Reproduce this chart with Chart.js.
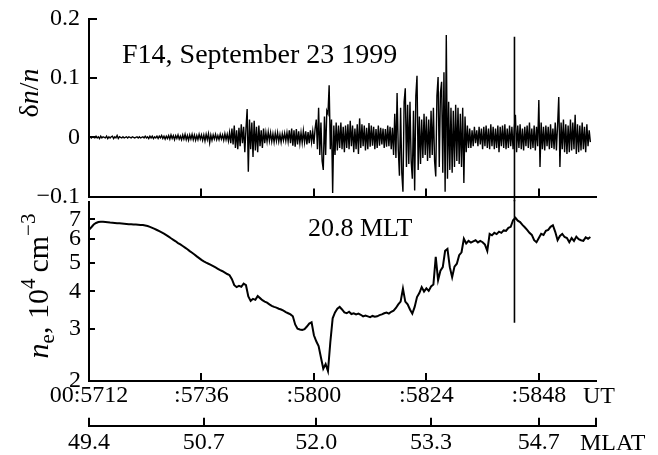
<!DOCTYPE html>
<html>
<head>
<meta charset="utf-8">
<script src="https://cdn.jsdelivr.net/npm/chart.js@4/dist/chart.umd.min.js"></script>
<style>
  html, body { margin: 0; padding: 0; background: #fff; }
  #fig { position: relative; width: 658px; height: 455px; overflow: hidden; background: #fff; }
  #cTop { position: absolute; left: 0; top: 0; }
  #cBot { position: absolute; left: 0; top: 200px; }
</style>
</head>
<body>
<div id="fig">
  <canvas id="cTop" width="658" height="210"></canvas>
  <canvas id="cBot" width="658" height="255"></canvas>
</div>
<script>
// DMSP F14 pass, 23 Sep 1999. Time is seconds after 00:57:12 UT.
const dtDn = 0.25;   // sampling step of the dn/n series, s
const dtNe = 0.5;    // sampling step of the density series, s

// relative density fluctuations dn/n
const dnOverN = [
  0,.001,-.001,.001,0,-.001,.002,-.001,.001,-.002,.002,-.001,.001,0,-.001,.002,-.002,.001,-.001,.001,
  .002,-.002,.001,-.001,.003,-.002,.001,0,-.001,.001,-.001,0,.001,-.001,.001,0,-.001,.001,0,-.001,
  0,.001,-.001,.001,-.001,0,.001,-.001,.002,-.001,.001,-.002,.002,-.001,.002,-.002,.001,-.001,.002,-.002,
  .002,-.001,.003,-.002,.002,-.003,.002,-.002,.003,-.003,.004,-.002,.003,-.004,.003,-.002,.004,-.003,.002,-.004,
  .004,-.003,.005,-.004,.003,-.005,.004,-.003,.005,-.004,.004,-.005,.003,-.004,.005,-.003,.004,-.005,.004,-.006,
  .005,-.004,.006,-.009,.004,-.005,.004,-.003,.005,-.004,.003,-.004,.005,-.003,.004,-.005,.006,-.004,.005,-.006,
  .008,-.01,.015,-.012,.02,-.018,.012,-.02,.016,-.015,.022,-.01,.018,-.025,.015,.048,-.058,.03,-.02,.025,
  -.033,.028,-.022,.018,-.025,.02,-.015,.012,-.018,.015,-.01,.008,-.007,.009,-.006,.008,-.007,.006,-.008,.007,
  -.006,.008,-.007,.005,-.008,.006,-.005,.007,-.006,.008,-.007,.012,-.01,.015,-.014,.012,-.016,.014,-.012,.01,
  -.01,.008,-.009,.011,-.008,.01,-.012,.009,-.01,.012,-.008,.01,-.011,.015,.03,-.02,.05,-.03,.025,-.04,
  -.055,.035,-.03,.045,.04,.088,-.02,.03,-.094,.02,-.03,.025,-.022,.02,-.018,.025,-.02,.018,-.025,.02,
  -.018,.022,-.02,.028,-.015,.02,-.025,.015,-.02,.022,-.028,.032,-.018,.022,-.015,.02,-.022,.016,-.02,.024,
  -.016,.02,-.014,.018,-.02,.014,-.018,.02,-.014,.016,-.012,.015,-.018,.014,-.016,.02,-.015,.018,-.02,.016,
  -.03,.04,-.035,.075,-.02,-.065,.05,-.06,-.092,.06,.083,-.05,.055,-.045,.06,-.04,-.07,.045,-.09,.07,
  .104,-.055,.035,-.045,.03,-.035,.04,-.03,.035,-.04,.03,-.035,.045,-.03,.05,-.04,-.066,.07,.102,-.05,
  .075,.094,-.06,.11,-.092,.173,-.07,.06,-.055,.05,-.06,.045,-.05,.055,-.04,.05,-.045,.04,-.05,.05,
  -.077,.035,-.025,.02,-.018,.015,-.018,.012,-.015,.018,-.01,.012,-.015,.018,-.012,.015,-.02,.018,-.015,.02,
  -.018,.015,-.02,.022,-.015,.018,-.02,.015,-.018,.02,-.025,.018,-.015,.02,-.018,.022,-.02,.015,-.018,.02,
  -.015,.018,-.02,.015,.038,-.025,.02,-.018,.022,-.02,.015,-.022,.018,-.015,.02,-.018,.025,-.02,.015,-.018,
  .02,-.022,.018,-.015,.063,-.05,.025,-.02,.018,-.022,.02,-.015,.018,-.02,.022,-.018,.015,-.02,.025,-.022,
  .02,.068,-.05,.025,-.02,.03,-.025,.022,-.028,.02,-.025,.03,-.022,.025,-.02,.038,-.028,.022,-.025,.02,
  -.022,.025,-.02,.018,-.025,.022,-.015,.012,-.008
];

// electron density n_e, 10^4 cm^-3
const neDensity = [
  6.45,6.58,6.72,6.80,6.85,6.87,6.86,6.85,6.84,6.82,6.81,6.80,6.79,6.78,6.77,6.76,6.75,6.74,6.73,6.72,
  6.72,6.71,6.70,6.69,6.67,6.64,6.60,6.55,6.50,6.44,6.38,6.32,6.26,6.19,6.12,6.04,5.97,5.90,5.82,5.76,
  5.69,5.62,5.55,5.47,5.40,5.33,5.25,5.18,5.11,5.05,5.00,4.96,4.92,4.87,4.82,4.77,4.72,4.68,4.63,4.58,
  4.54,4.40,4.20,4.14,4.18,4.15,4.25,4.20,3.85,3.72,3.78,3.75,3.86,3.80,3.74,3.70,3.67,3.62,3.58,3.55,
  3.53,3.50,3.48,3.45,3.41,3.38,3.35,3.30,3.10,3.00,2.98,2.97,2.99,3.05,3.12,3.15,2.85,2.72,2.62,2.40,
  2.20,2.28,2.16,2.70,3.25,3.40,3.50,3.55,3.48,3.40,3.38,3.42,3.36,3.38,3.35,3.37,3.34,3.30,3.32,3.30,
  3.28,3.31,3.29,3.30,3.33,3.35,3.38,3.40,3.37,3.42,3.45,3.52,3.62,3.70,4.09,3.70,3.62,3.48,3.37,3.55,
  3.83,3.95,4.14,4.00,4.10,4.02,4.16,4.22,5.23,4.37,4.70,4.83,5.48,5.56,4.83,4.47,4.85,4.96,5.30,5.42,
  6.02,5.80,5.92,5.84,5.90,5.95,5.85,5.92,5.86,5.75,5.48,6.25,6.18,6.30,6.24,6.36,6.30,6.42,6.40,6.55,
  6.60,6.95,7.08,6.92,6.85,6.70,6.58,6.45,6.30,6.20,5.95,5.86,6.05,6.25,6.20,6.40,6.45,6.60,6.68,6.35,
  5.95,6.15,6.25,6.10,6.05,5.86,6.05,5.92,6.12,6.00,5.95,5.92,6.08,6.02,6.10
];

// vertical marker through both panels
const markerTime = 90.8;
const markerDn = [0.17, -0.108];
const markerNe = [8.3, 3.14];

// axes
const timeMax = 108.2;
const utTickTimes  = [0, 24, 48, 72, 96];
const utTickLabels = ['00:5712', ':5736', ':5800', ':5824', ':5848'];
const mlatTickTimes  = [0, 24.5, 48.5, 73, 96];
const mlatTickLabels = ['49.4', '50.7', '52.0', '53.3', '54.7'];
const dnTicks      = [-0.1, 0, 0.1, 0.2];
const dnTickLabels = ['\u22120.1', '0', '0.1', '0.2'];
const neTicks      = [2, 3, 4, 5, 6, 7];
const neTickLabels = ['2', '3', '4', '5', '6', '7'];

const SERIF = '"Liberation Serif", "Times New Roman", serif';
const tickFont = { family: SERIF, size: 24, lineHeight: 1.2 };

// short tick marks drawn on the inner side of an axis line
const innerTicks = {
  id: 'innerTicks',
  afterDraw(chart, args, opts) {
    const ctx = chart.ctx;
    ctx.save();
    ctx.strokeStyle = '#000';
    ctx.lineWidth = opts.lineWidth || 2;
    for (const item of opts.items || []) {
      const sc = chart.scales[item.scale];
      for (const v of item.values) {
        const p = Math.round(sc.getPixelForValue(v));
        ctx.beginPath();
        if (sc.isHorizontal()) {
          ctx.moveTo(p, sc.top);
          ctx.lineTo(p, sc.top - item.length);
        } else {
          ctx.moveTo(sc.right, p);
          ctx.lineTo(sc.right + item.length, p);
        }
        ctx.stroke();
      }
    }
    ctx.restore();
  }
};

// rich-text labels: axis titles (rotated), panel captions, axis units
function drawRich(ctx, segs, x, y, rotate, align) {
  ctx.save();
  ctx.translate(x, y);
  if (rotate) ctx.rotate(-Math.PI / 2);
  ctx.fillStyle = '#000';
  ctx.textBaseline = 'alphabetic';
  ctx.textAlign = 'left';
  let total = 0;
  for (const s of segs) { ctx.font = s.font; total += ctx.measureText(s.text).width + (s.gap || 0); }
  let cx = align === 'center' ? -total / 2 : 0;
  for (const s of segs) {
    ctx.font = s.font;
    ctx.fillText(s.text, cx, s.dy || 0);
    cx += ctx.measureText(s.text).width + (s.gap || 0);
  }
  ctx.restore();
}
const textLayer = {
  id: 'textLayer',
  afterDraw(chart, args, opts) {
    for (const t of opts.items || []) drawRich(chart.ctx, t.segs, t.x, t.y, t.rotate, t.align);
  }
};

Chart.defaults.font.family = SERIF;
Chart.defaults.color = '#000';

const axisBorder = { display: true, color: '#000', width: 2 };
const noGrid = { display: true, drawOnChartArea: false, drawTicks: false };
// keep the plot area fixed: no extra room reserved for half-labels at the ends
const fixWidth = w => s => { s.width = w; s.paddingTop = 0; s.paddingBottom = 0; };
const fixHeight = h => s => { s.height = h; s.paddingLeft = 0; s.paddingRight = 0; };

// ---- upper panel: dn/n ----
new Chart(document.getElementById('cTop'), {
  type: 'line',
  data: {
    datasets: [
      {
        data: dnOverN.map((v, i) => ({ x: i * dtDn, y: v })),
        borderColor: '#000', borderWidth: 1.4, pointRadius: 0, tension: 0
      },
      {
        data: markerDn.map(v => ({ x: markerTime, y: v })),
        borderColor: '#000', borderWidth: 1.6, pointRadius: 0, clip: false
      }
    ]
  },
  options: {
    responsive: false, animation: false, devicePixelRatio: 1,
    layout: { padding: { left: 0, right: 62, top: 19, bottom: 0 } },
    plugins: {
      legend: { display: false }, tooltip: { enabled: false },
      innerTicks: {
        items: [
          { scale: 'x', values: utTickTimes.slice(1), length: 8 },
          { scale: 'y', values: dnTicks.slice(1), length: 8 }
        ]
      },
      textLayer: {
        items: [
          { segs: [{ text: 'F14, September 23 1999', font: '28px ' + SERIF }], x: 122, y: 63 },
          { rotate: true, align: 'center', x: 38, y: 93, segs: [
            { text: '\u03B4', font: '28px ' + SERIF },
            { text: 'n', font: 'italic 28px ' + SERIF },
            { text: '/', font: '28px ' + SERIF },
            { text: 'n', font: 'italic 28px ' + SERIF }
          ] }
        ]
      }
    },
    scales: {
      x: {
        type: 'linear', min: 0, max: timeMax,
        afterBuildTicks: s => { s.ticks = utTickTimes.map(v => ({ value: v })); },
        afterFit: fixHeight(13.5),
        ticks: { display: false },
        grid: noGrid, border: axisBorder
      },
      y: {
        type: 'linear', min: -0.1, max: 0.2,
        afterBuildTicks: s => { s.ticks = dnTicks.map(v => ({ value: v })); },
        afterFit: fixWidth(89),
        ticks: { font: tickFont, padding: 9, autoSkip: false, callback: (v, i) => dnTickLabels[i] },
        grid: noGrid, border: axisBorder
      }
    }
  },
  plugins: [innerTicks, textLayer]
});

// ---- lower panel: n_e ----
new Chart(document.getElementById('cBot'), {
  type: 'line',
  data: {
    datasets: [
      {
        data: neDensity.map((v, i) => ({ x: i * dtNe, y: v })),
        borderColor: '#000', borderWidth: 2, pointRadius: 0, tension: 0
      },
      {
        data: markerNe.map(v => ({ x: markerTime, y: v })),
        borderColor: '#000', borderWidth: 1.6, pointRadius: 0, clip: false
      }
    ]
  },
  options: {
    responsive: false, animation: false, devicePixelRatio: 1,
    layout: { padding: { left: 0, right: 62, top: 2, bottom: 0 } },
    plugins: {
      legend: { display: false }, tooltip: { enabled: false },
      innerTicks: {
        items: [
          { scale: 'x', values: utTickTimes.slice(1), length: 8 },
          { scale: 'mlat', values: mlatTickTimes.concat([timeMax]), length: 8 },
          { scale: 'y', values: neTicks.slice(1), length: 6 }
        ]
      },
      textLayer: {
        items: [
          { segs: [{ text: '20.8 MLT', font: '26px ' + SERIF }], x: 308, y: 36 },
          { segs: [{ text: 'UT', font: '24px ' + SERIF }], x: 583, y: 203 },
          { segs: [{ text: 'MLAT', font: '24px ' + SERIF }], x: 580, y: 250 },
          { rotate: true, align: 'center', x: 48, y: 86, segs: [
            { text: 'n', font: 'italic 30px ' + SERIF },
            { text: 'e', font: '21px ' + SERIF, dy: 6 },
            { text: ', 10', font: '30px ' + SERIF },
            { text: '4', font: '21px ' + SERIF, dy: -13, gap: 6 },
            { text: 'cm', font: '30px ' + SERIF },
            { text: '\u22123', font: '21px ' + SERIF, dy: -13 }
          ] }
        ]
      }
    },
    scales: {
      x: {
        type: 'linear', min: 0, max: timeMax, position: 'bottom', weight: 0,
        afterBuildTicks: s => { s.ticks = utTickTimes.map(v => ({ value: v })); },
        afterFit: fixHeight(44.7),
        ticks: { font: tickFont, padding: 0, maxRotation: 0, autoSkip: false,
                 callback: (v, i) => utTickLabels[i] },
        grid: noGrid, border: axisBorder
      },
      mlat: {
        type: 'linear', min: 0, max: timeMax, position: 'bottom', weight: 1,
        afterBuildTicks: s => { s.ticks = mlatTickTimes.map(v => ({ value: v })); },
        afterFit: fixHeight(29.3),
        ticks: { font: tickFont, padding: 2.4, maxRotation: 0, autoSkip: false,
                 callback: (v, i) => mlatTickLabels[i] },
        grid: noGrid, border: axisBorder
      },
      y: {
        type: 'logarithmic', min: 2, max: 8,
        afterBuildTicks: s => { s.ticks = neTicks.map(v => ({ value: v })); },
        afterFit: fixWidth(89),
        ticks: { font: tickFont, padding: 8, autoSkip: false, callback: (v, i) => neTickLabels[i] },
        grid: noGrid, border: axisBorder
      }
    }
  },
  plugins: [innerTicks, textLayer]
});
</script>
</body>
</html>
